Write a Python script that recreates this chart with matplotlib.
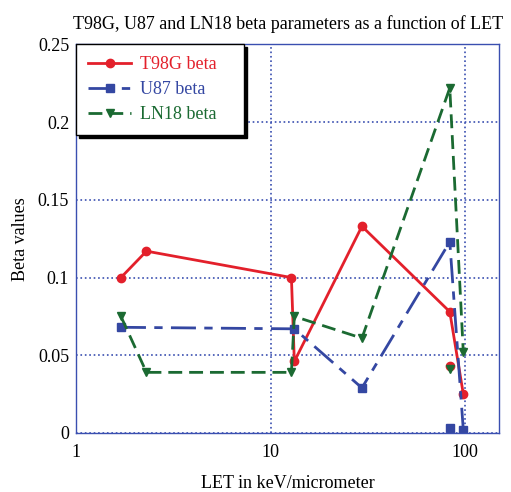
import numpy as np
import matplotlib
matplotlib.use('Agg')
import matplotlib.pyplot as plt

plt.rcParams['font.family'] = ['Liberation Serif', 'DejaVu Serif']

# LET values (keV/micrometer)
let_all = [1.7, 2.3, 12.8, 13.25, 29.5, 83.5, 98]
let_u87 = [1.7, 13.25, 29.5, 83.5, 98]

t98g_beta = [0.100, 0.117, 0.100, 0.046, 0.133, 0.078, 0.025]
u87_beta = [0.068, 0.067, 0.029, 0.123, 0.002]
ln18_beta = [0.075, 0.039, 0.039, 0.075, 0.061, 0.222, 0.052]

# lone points that are not joined to the lines
extra_let = [83.5]
t98g_extra = [0.043]
u87_extra = [0.003]
ln18_extra = [0.041]

red = '#e3202b'
blue = '#3447a2'
green = '#1b6a32'
gridc = '#3a4fb0'

fig = plt.figure(figsize=(5.11, 4.92), dpi=100)
ax = fig.add_axes([0.149, 0.12, 0.828, 0.7896])

ax.plot(let_all, t98g_beta, color=red, lw=2, marker='o', ms=6, label='T98G beta')
ax.plot(let_u87, u87_beta, color=blue, lw=2, marker='s', ms=6,
        dashes=(9, 3, 3, 3), label='U87 beta')
ax.plot(let_all, ln18_beta, color=green, lw=2, marker='v', ms=5.5,
        dashes=(5, 2.5), label='LN18 beta')

ax.plot(extra_let, t98g_extra, color=red, marker='o', ms=6, ls='none')
ax.plot(extra_let, ln18_extra, color=green, marker='v', ms=5.5, ls='none')
ax.plot(extra_let, u87_extra, color=blue, marker='s', ms=6, ls='none')

ax.set_xscale('log')
ax.set_xlim(1, 150)
ax.set_ylim(0, 0.25)
ax.set_xticks([1, 10, 100])
ax.set_xticklabels(['1', '10', '100'])
ax.set_yticks([0, 0.05, 0.1, 0.15, 0.2, 0.25])
ax.set_yticklabels(['0', '0.05', '0.1', '0.15', '0.2', '0.25'])
ax.minorticks_off()
ax.tick_params(length=0, labelsize=13, pad=8)
ax.tick_params(axis='y', pad=5)

ax.grid(True, color=gridc, ls=':', lw=1.2)
for s in ax.spines.values():
    s.set_color(gridc)
    s.set_linewidth(1)

ax.set_title('T98G, U87 and LN18 beta parameters as a function of LET',
             fontsize=13, pad=11)
ax.set_xlabel('LET in keV/micrometer', fontsize=13, labelpad=10)
ax.set_ylabel('Beta values', fontsize=13, labelpad=6)

leg = ax.legend(loc='upper left', bbox_to_anchor=(0, 0.5, 0.397, 0.5),
                mode='expand', borderaxespad=0, borderpad=0.65,
                fontsize=13, frameon=True, fancybox=False, handlelength=2.4,
                handletextpad=0.5, labelspacing=0.45,
                shadow={'color': 'black', 'alpha': 1})
leg.get_frame().set_edgecolor('black')
leg.get_frame().set_linewidth(1)
for txt, c in zip(leg.get_texts(), [red, blue, green]):
    txt.set_color(c)

fig.savefig('out.png', dpi=100)
